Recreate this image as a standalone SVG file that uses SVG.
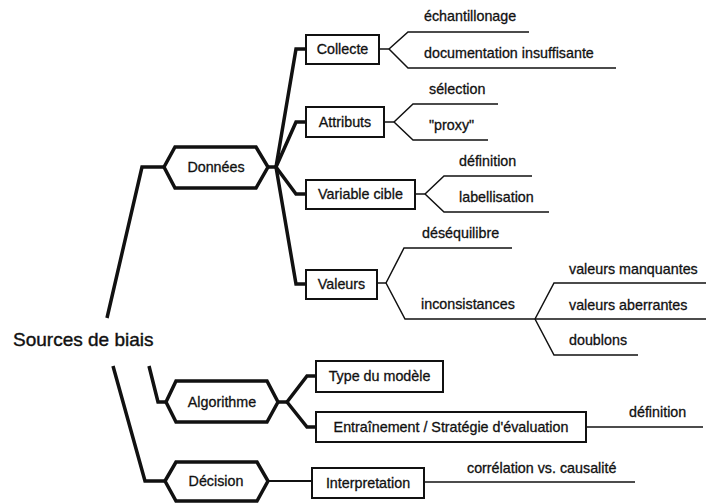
<svg xmlns="http://www.w3.org/2000/svg" width="706" height="504" viewBox="0 0 706 504">
<style>
text{font-family:"Liberation Sans",Arial,sans-serif;font-size:14.3px;fill:#111;stroke:#111;stroke-width:0.3}
.root{font-size:19px;stroke-width:0.4}
.mid{text-anchor:middle}
.box{fill:#fff;stroke:#111;stroke-width:2}
.hex{fill:#fff;stroke:#111;stroke-width:3.5;stroke-linejoin:miter}
.thick{fill:none;stroke:#111;stroke-width:3.5;stroke-linejoin:miter}
.med{fill:none;stroke:#111;stroke-width:2}
.thin{fill:none;stroke:#111;stroke-width:1.5}
</style>
<rect width="706" height="504" fill="#fff"/>
<g id="connectors">
<polyline class="thick" points="107,318 142,167 164,167"/>
<polyline class="thick" points="149,366 158,402 166,402"/>
<polyline class="thick" points="113,366 145,481 165,481"/>
<polyline class="thick" points="268,167 276,167"/>
<polyline class="thick" points="276,167 296,49 306,49"/>
<polyline class="thick" points="276,167 296,122 306,122"/>
<polyline class="thick" points="276,167 296,194 306,194"/>
<polyline class="thick" points="276,167 296,284 306,284"/>
<polyline class="thick" points="278,402 287,402"/>
<polyline class="thick" points="287,402 307,376 316,376"/>
<polyline class="thick" points="287,402 307,427 316,427"/>
<polyline class="med" points="268,481 312,481"/>
<polyline class="thin" points="379,49 389,49"/>
<polyline class="thin" points="389,49 408,32 529,32"/>
<polyline class="thin" points="389,49 408,68 616,68"/>
<polyline class="thin" points="384,122 394,122"/>
<polyline class="thin" points="394,122 413,104 498,104"/>
<polyline class="thin" points="394,122 413,140 488,140"/>
<polyline class="thin" points="415,194 425,194"/>
<polyline class="thin" points="425,194 444,176 532,176"/>
<polyline class="thin" points="425,194 444,212 549,212"/>
<polyline class="thin" points="377,283 386,283"/>
<polyline class="thin" points="386,283 404,248 512,248"/>
<polyline class="thin" points="386,283 405,319 535,319"/>
<polyline class="thin" points="535,319 554,283 706,283"/>
<polyline class="thin" points="535,319 706,319"/>
<polyline class="thin" points="535,319 554,355 638,355"/>
<polyline class="thin" points="586,427 703,427"/>
<polyline class="thin" points="424,482 635,482"/>
</g>
<g id="root"><text class="root" x="13" y="346">Sources de biais</text></g>
<g id="donnees"><polygon class="hex" points="164,167 175,147 256,147 268,167 256,188 175,188"/><text class="mid" x="216" y="172">Données</text></g>
<g id="algorithme"><polygon class="hex" points="166,402 176,381 267,381 278,402 267,422 176,422"/><text class="mid" x="222" y="407">Algorithme</text></g>
<g id="decision"><polygon class="hex" points="165,481 176,462 257,462 268,481 257,501 176,501"/><text class="mid" x="216" y="486">Décision</text></g>
<g id="collecte"><rect class="box" x="306" y="35" width="73" height="29"/><text class="mid" x="342.5" y="54">Collecte</text></g>
<g id="attributs"><rect class="box" x="306" y="107" width="78" height="30"/><text class="mid" x="345" y="127">Attributs</text></g>
<g id="variable"><rect class="box" x="306" y="180" width="109" height="29"/><text class="mid" x="360.5" y="199">Variable cible</text></g>
<g id="valeurs"><rect class="box" x="306" y="270" width="71" height="29"/><text class="mid" x="341.5" y="289">Valeurs</text></g>
<g id="type"><rect class="box" x="316" y="361" width="127" height="31"/><text class="mid" x="379.5" y="381">Type du modèle</text></g>
<g id="entrainement"><rect class="box" x="316" y="412" width="270" height="30"/><text class="mid" x="451" y="432">Entraînement / Stratégie d'évaluation</text></g>
<g id="interpretation"><rect class="box" x="312" y="468" width="112" height="30"/><text class="mid" x="368" y="488">Interpretation</text></g>
<g id="leaves">
<text x="424" y="21">échantillonage</text>
<text x="424" y="58">documentation insuffisante</text>
<text x="429" y="94">sélection</text>
<text x="429" y="130">"proxy"</text>
<text x="459" y="166">définition</text>
<text x="459" y="202">labellisation</text>
<text x="422" y="238">déséquilibre</text>
<text x="421" y="309">inconsistances</text>
<text x="569" y="274">valeurs manquantes</text>
<text x="569" y="310">valeurs aberrantes</text>
<text x="569" y="345">doublons</text>
<text x="629" y="417">définition</text>
<text x="467" y="473">corrélation vs. causalité</text>
</g>
</svg>
